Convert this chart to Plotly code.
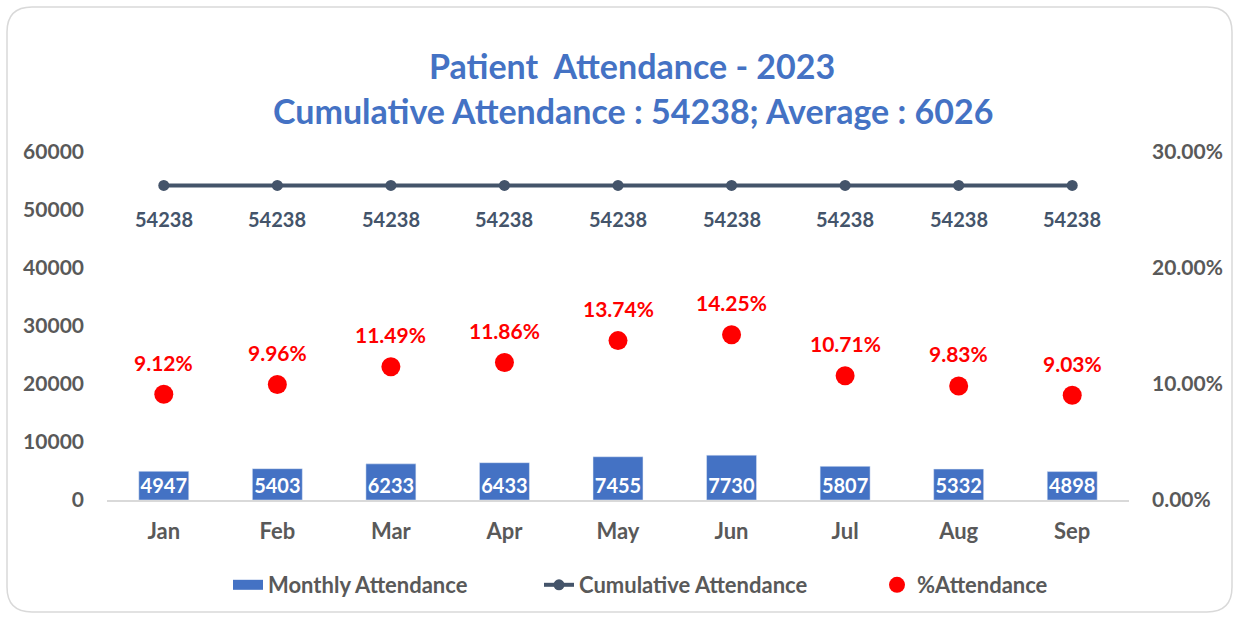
import plotly.graph_objects as go

months = ["Jan", "Feb", "Mar", "Apr", "May", "Jun", "Jul", "Aug", "Sep"]
monthly = [4947, 5403, 6233, 6433, 7455, 7730, 5807, 5332, 4898]
cumulative = [54238, 54238, 54238, 54238, 54238, 54238, 54238, 54238, 54238]
pct = [9.12, 9.96, 11.49, 11.86, 13.74, 14.25, 10.71, 9.83, 9.03]
left_ticks = [0, 10000, 20000, 30000, 40000, 50000, 60000]
right_ticks = [0, 10, 20, 30]
right_tick_text = ["0.00%", "10.00%", "20.00%", "30.00%"]
title1 = "Patient&nbsp; Attendance - 2023"
title2 = "Cumulative Attendance : 54238; Average : 6026"

FONT = "Lato, Open Sans, sans-serif"
BLUE = "#4472C4"
NAVY = "#44546A"
GREY = "#595959"

W, H = 1234, 618
ML, MR, MT, MB = 107, 105, 152, 118
PW, PH = W - ML - MR, H - MT - MB

def px2x(px):
    return (px - ML) / PW

def py2y(py):
    return (H - MB - py) / PH

fig = go.Figure()
fig.add_trace(go.Bar(
    x=months, y=monthly, name="Monthly Attendance",
    marker=dict(color=BLUE), text=[str(v) for v in monthly],
    textposition="inside", insidetextanchor="start",
    textfont=dict(color="white", size=20, family=FONT, weight="bold"),
    yaxis="y", showlegend=False,
))
# legend-only entry giving the wide rectangular legend key
fig.add_trace(go.Scatter(
    x=[None], y=[None], name="Monthly Attendance", mode="lines",
    line=dict(color=BLUE, width=17), legend="legend", hoverinfo="skip",
))
fig.add_trace(go.Scatter(
    x=months, y=cumulative, name="Cumulative Attendance", mode="lines+markers",
    line=dict(color=NAVY, width=4), marker=dict(color=NAVY, size=11),
    yaxis="y", legend="legend2",
))
fig.add_trace(go.Scatter(
    x=months, y=pct, name="%Attendance", mode="markers",
    marker=dict(color="#FF0000", size=19), yaxis="y2", legend="legend3",
))

annotations = []
for m, c in zip(months, cumulative):
    annotations.append(dict(x=m, y=c, xref="x", yref="y", text=str(c), showarrow=False,
                            yshift=-34, font=dict(color=NAVY, size=20, family=FONT, weight="bold")))
for m, p in zip(months, pct):
    annotations.append(dict(x=m, y=p, xref="x", yref="y2", text=f"{p:.2f}%", showarrow=False,
                            yshift=32, font=dict(color="#FF0000", size=21, family=FONT, weight="bold")))
annotations.append(dict(x=px2x(632), y=py2y(65), xref="paper", yref="paper", text=title1, showarrow=False,
                        xanchor="center", yanchor="middle",
                        font=dict(color=BLUE, size=34, family=FONT, weight="bold")))
annotations.append(dict(x=px2x(633), y=py2y(110), xref="paper", yref="paper", text=title2, showarrow=False,
                        xanchor="center", yanchor="middle",
                        font=dict(color=BLUE, size=34, family=FONT, weight="bold")))

# rounded border
x0, x1 = px2x(7), px2x(1232)
y0, y1 = py2y(612), py2y(7)
rx, ry = 25 / PW, 25 / PH
path = (f"M {x0+rx},{y1} L {x1-rx},{y1} Q {x1},{y1} {x1},{y1-ry} "
        f"L {x1},{y0+ry} Q {x1},{y0} {x1-rx},{y0} L {x0+rx},{y0} "
        f"Q {x0},{y0} {x0},{y0+ry} L {x0},{y1-ry} Q {x0},{y1} {x0+rx},{y1} Z")

legend_font = dict(size=22, color=GREY, family=FONT, weight="bold")
def leg(px):
    return dict(orientation="h", x=px2x(px), xanchor="left", y=py2y(585), yanchor="middle",
                font=legend_font, bgcolor="rgba(0,0,0,0)")

fig.update_layout(
    width=W, height=H,
    margin=dict(l=ML, r=MR, t=MT, b=MB),
    paper_bgcolor="white", plot_bgcolor="white",
    font=dict(family=FONT, color=GREY),
    bargap=0.56,
    showlegend=True,
    legend=leg(228),
    legend2=leg(539),
    legend3=leg(877),
    uniformtext=dict(minsize=20, mode="show"),
    xaxis=dict(range=[-0.5, len(months) - 0.5], showgrid=False, showline=True,
               linecolor="#D9D9D9", linewidth=1.5,
               ticks="", tickfont=dict(size=22, color=GREY, family=FONT, weight="bold"),
               ticklabelstandoff=11, zeroline=False),
    yaxis=dict(range=[0, 60000], tickvals=left_ticks, tickformat="d", showgrid=False,
               showline=False, zeroline=False,
               tickfont=dict(size=21, color=GREY, family=FONT, weight="bold"),
               ticklabelstandoff=22),
    yaxis2=dict(range=[0, 30], tickvals=right_ticks, ticktext=right_tick_text, overlaying="y",
                side="right", showgrid=False, showline=False, zeroline=False,
                tickfont=dict(size=21, color=GREY, family=FONT, weight="bold"),
                ticklabelstandoff=22),
    annotations=annotations,
    shapes=[dict(type="path", path=path, xref="paper", yref="paper",
                 line=dict(color="#D9D9D9", width=1.5), layer="below")],
)

fig.write_html("out.html", config={"displayModeBar": False},
               post_script="document.body.style.margin='0';")
